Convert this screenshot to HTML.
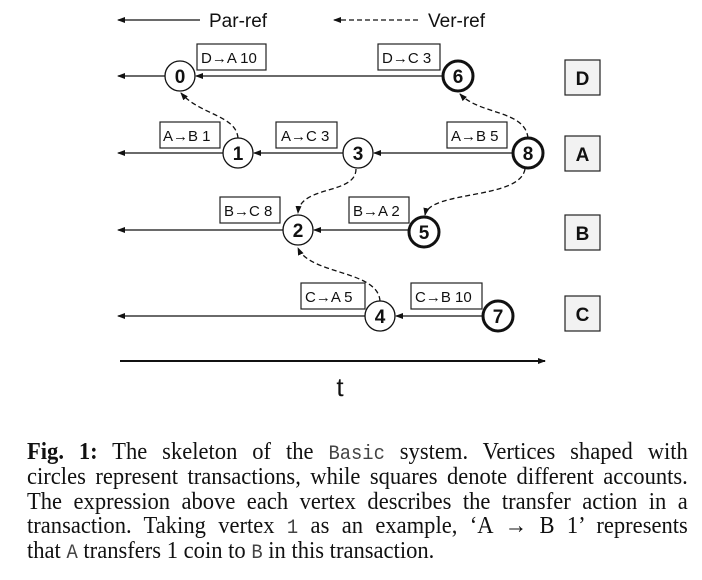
<!DOCTYPE html>
<html><head><style>
body{margin:0;width:702px;height:580px;background:#fff;position:relative;overflow:hidden}
svg{position:absolute;left:0;top:0}
.cap{position:absolute;left:27px;top:440px;width:703px;transform:scaleX(0.94);transform-origin:0 0;font-family:"Liberation Serif",serif;font-size:24px;line-height:24.8px;color:#111}
.cap div{text-align:justify;text-align-last:justify;white-space:nowrap;height:24.8px}
.cap div.l{text-align-last:left}
.cap code{font-family:"Liberation Mono",monospace;font-size:20px;color:#444}
</style></head><body>
<svg width="702" height="420" font-family="Liberation Sans, sans-serif">
<defs>
<marker id="a" markerWidth="8" markerHeight="6" refX="7" refY="3" orient="auto" markerUnits="userSpaceOnUse"><path d="M0,0L8,3L0,6z" fill="#111"/></marker>
</defs>
<g stroke="#111" stroke-width="1.3" fill="none">
<line x1="200" y1="20" x2="118" y2="20" marker-end="url(#a)"/>
<line x1="418" y1="20" x2="334" y2="20" stroke-dasharray="5,3" marker-end="url(#a)"/>
<line x1="165" y1="76" x2="118" y2="76" marker-end="url(#a)"/>
<line x1="443" y1="76" x2="196" y2="76" marker-end="url(#a)"/>
<line x1="223" y1="153" x2="118" y2="153" marker-end="url(#a)"/>
<line x1="343" y1="153" x2="254" y2="153" marker-end="url(#a)"/>
<line x1="513" y1="153" x2="374" y2="153" marker-end="url(#a)"/>
<line x1="283" y1="230" x2="118" y2="230" marker-end="url(#a)"/>
<line x1="409" y1="230" x2="314" y2="230" marker-end="url(#a)"/>
<line x1="365" y1="316" x2="118" y2="316" marker-end="url(#a)"/>
<line x1="483" y1="316" x2="396" y2="316" marker-end="url(#a)"/>
<line x1="120" y1="361" x2="545" y2="361" stroke-width="2" marker-end="url(#a)"/>
<g stroke-dasharray="5,3">
<path d="M238,138 C236,115 200,115 181,93" marker-end="url(#a)"/>
<path d="M528,138 C525,110 480,115 460,94" marker-end="url(#a)"/>
<path d="M356,169 C356,195 300,185 298,213" marker-end="url(#a)"/>
<path d="M525,169 C520,200 430,190 425,215" marker-end="url(#a)"/>
<path d="M380,301 C378,270 310,275 298,248" marker-end="url(#a)"/>
</g>
</g>
<g font-size="19" fill="#111"><text x="209" y="27">Par-ref</text><text x="428" y="27">Ver-ref</text></g>
<g stroke="#222" stroke-width="1.2" fill="#fff">
<rect x="197" y="44" width="69" height="26"/><rect x="378" y="44" width="62" height="26"/>
<rect x="160" y="122" width="60" height="26"/><rect x="276" y="122" width="61" height="26"/><rect x="447" y="122" width="60" height="26"/>
<rect x="220" y="197" width="60" height="26"/><rect x="349" y="197" width="60" height="26"/>
<rect x="301" y="283" width="64" height="26"/><rect x="411" y="283" width="71" height="26"/>
</g>
<g font-size="15" fill="#111">
<text x="201" y="63">D→A 10</text><text x="382" y="63">D→C 3</text>
<text x="163" y="141">A→B 1</text><text x="281" y="141">A→C 3</text><text x="451" y="141">A→B 5</text>
<text x="224" y="216">B→C 8</text><text x="353" y="216">B→A 2</text>
<text x="305" y="302">C→A 5</text><text x="415" y="302">C→B 10</text>
</g>
<g stroke="#222" stroke-width="1.2" fill="#f2f2f2">
<rect x="565" y="60" width="35" height="35"/><rect x="565" y="136" width="35" height="35"/>
<rect x="565" y="215" width="35" height="35"/><rect x="565" y="296" width="35" height="35"/>
</g>
<g font-size="19" fill="#111" text-anchor="middle" font-weight="bold">
<text x="582.5" y="85">D</text><text x="582.5" y="161">A</text><text x="582.5" y="240">B</text><text x="582.5" y="321">C</text>
</g>
<g stroke="#111" fill="#fff">
<circle cx="180" cy="76" r="15" stroke-width="1.3"/><circle cx="458" cy="76" r="15" stroke-width="3"/>
<circle cx="238" cy="153" r="15" stroke-width="1.3"/><circle cx="358" cy="153" r="15" stroke-width="1.3"/><circle cx="528" cy="153" r="15" stroke-width="3"/>
<circle cx="298" cy="230" r="15" stroke-width="1.3"/><circle cx="424" cy="232" r="15" stroke-width="3"/>
<circle cx="380" cy="316" r="15" stroke-width="1.3"/><circle cx="498" cy="316" r="15" stroke-width="3"/>
</g>
<g font-size="19" font-weight="bold" fill="#111" text-anchor="middle">
<text x="180" y="83">0</text><text x="458" y="83">6</text>
<text x="238" y="160">1</text><text x="358" y="160">3</text><text x="528" y="160">8</text>
<text x="298" y="237">2</text><text x="424" y="239">5</text>
<text x="380" y="323">4</text><text x="498" y="323">7</text>
</g>
<text x="340" y="396" font-size="26" text-anchor="middle" fill="#111">t</text>
</svg>
<div class="cap">
<div><b>Fig. 1:</b> The skeleton of the <code>Basic</code> system. Vertices shaped with</div>
<div>circles represent transactions, while squares denote different accounts.</div>
<div>The expression above each vertex describes the transfer action in a</div>
<div>transaction. Taking vertex <code>1</code> as an example, ‘A → B 1’ represents</div>
<div class="l">that <code>A</code> transfers 1 coin to <code>B</code> in this transaction.</div>
</div>
</body></html>
